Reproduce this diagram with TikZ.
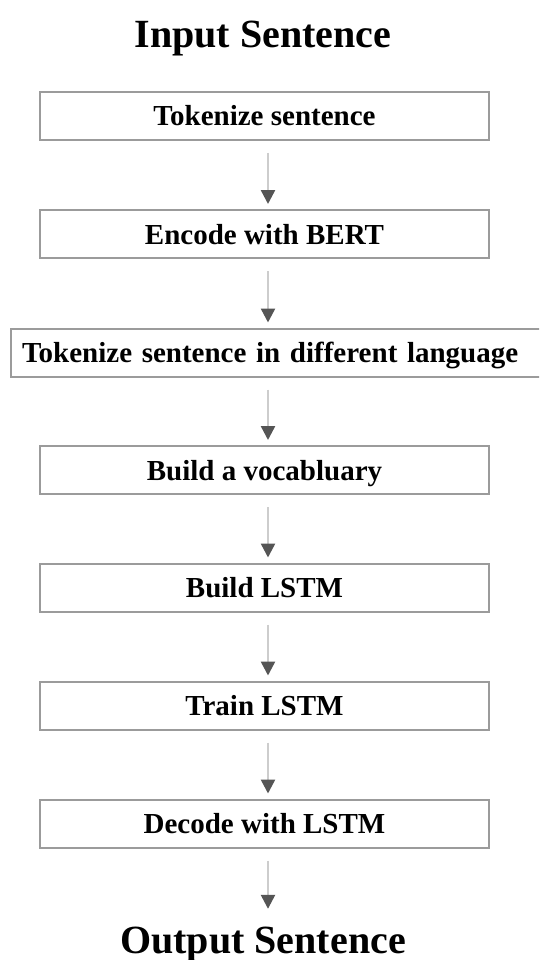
\documentclass[tikz,border=0pt]{standalone}
\usepackage{fontspec}
\setmainfont{Liberation Serif}
\usetikzlibrary{arrows.meta}
\definecolor{boxgray}{RGB}{155,155,155}
\definecolor{linegray}{RGB}{205,205,205}
\definecolor{tipgray}{RGB}{85,85,85}

\begin{document}
\begin{tikzpicture}[x=1pt,y=-1pt,
    stepbox/.style={draw=boxgray,line width=2pt,minimum width=449pt,minimum height=48pt,
      inner sep=0pt,text height=20pt,text depth=0pt,font=\fontsize{29}{34}\selectfont\bfseries},
    titletext/.style={inner sep=12pt,text height=27pt,text depth=0pt,
      font=\fontsize{40}{46}\selectfont\bfseries},
    flow/.style={linegray,line width=2.5pt,shorten <=12pt,shorten >=5pt,
      -{Triangle[color=tipgray,width=14pt,length=14pt]}}]
    \useasboundingbox (0,0) rectangle (539,960);
    \clip (0,0) rectangle (539,960);

    % Wejście i wyjście
    \node[titletext,anchor=base] (in) at (263,48) {Input Sentence};
    \node[titletext,anchor=base] (out) at (263,953) {Output Sentence};

    % Kroki
    \node[stepbox] (b1) at (264.5,116) {Tokenize sentence};
    \node[stepbox] (b2) at (264.5,234) {Encode with BERT};
    \node[stepbox,minimum width=549pt,text width=527pt,inner xsep=11pt,align=left]
      (b3) at (285.5,352.5) {Tokenize sentence in different language};
    \node[stepbox] (b4) at (264.5,470) {Build a vocabluary};
    \node[stepbox] (b5) at (264.5,587.5) {Build LSTM};
    \node[stepbox] (b6) at (264.5,705.5) {Train LSTM};
    \node[stepbox] (b7) at (264.5,823.5) {Decode with LSTM};

    % Strzałki
    \coordinate (ax) at (268,0);
    \foreach \Ua/\Ub in {b1/b2,b2/b3,b3/b4,b4/b5,b5/b6,b6/b7,b7/out}
    {
      \draw[flow] (\Ua.south -| ax) -- (\Ub.north -| ax);
    }
\end{tikzpicture}
\end{document}
